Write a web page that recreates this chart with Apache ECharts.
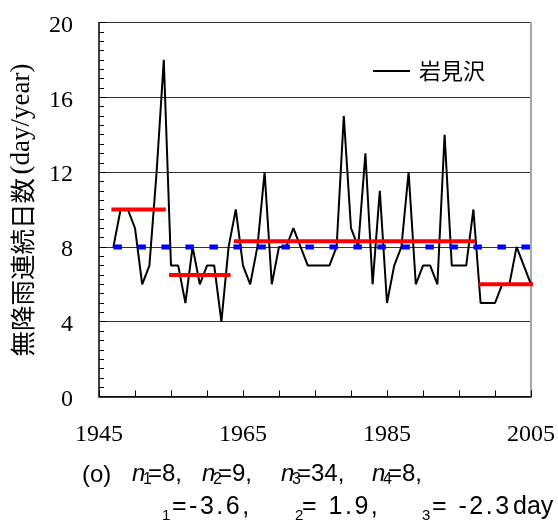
<!DOCTYPE html>
<html>
<head>
<meta charset="utf-8">
<script src="https://cdn.jsdelivr.net/npm/echarts@6/dist/echarts.min.js"></script>
<style>
  html, body { margin: 0; padding: 0; background: #fff; }
  #chart { width: 558px; height: 524px; }
</style>
</head>
<body>
<div id="chart"></div>
<script>
// Annual count of consecutive no-rain days at Iwamizawa
const years = [
  1947, 1948, 1949, 1950, 1951, 1952, 1953, 1954, 1955, 1956,
  1957, 1958, 1959, 1960, 1961, 1962, 1963, 1964, 1965, 1966,
  1967, 1968, 1969, 1970, 1971, 1972, 1973, 1974, 1975, 1976,
  1977, 1978, 1979, 1980, 1981, 1982, 1983, 1984, 1985, 1986,
  1987, 1988, 1989, 1990, 1991, 1992, 1993, 1994, 1995, 1996,
  1997, 1998, 1999, 2000, 2001, 2002, 2003, 2004, 2005
];
const counts = [
  8, 10, 10, 9, 6, 7, 12, 18, 7, 7,
  5, 8, 6, 7, 7, 4, 8, 10, 7, 6,
  8, 12, 6, 8, 8, 9, 8, 7, 7, 7,
  7, 8, 15, 9, 8, 13, 6, 11, 5, 7,
  8, 12, 6, 7, 7, 6, 14, 7, 7, 7,
  10, 5, 5, 5, 6, 6, 8, 7, 6
];

// Sub-period levels (red) and the whole-period level (blue dashed)
const segStart = [1947, 1955, 1964, 1998];
const segEnd = [1954, 1963, 1997, 2005];
const segLevel = [10, 6.5, 8.3, 6];
const overallStart = 1947;
const overallEnd = 2005;
const overallLevel = 8;

// Axis settings
const xMin = 1945, xMax = 2005, xStep = 5;
const xLabelYears = [1945, 1965, 1985, 2005];
const yMin = 0, yMax = 20, yStep = 4;

const stationName = '岩見沢';
const yTitleJa = '無降雨連続日数';
const yTitleUnit = '(day/year)';
const nValues = ['8', '9', '34', '8'];
const diffValues = ['=-3.6,', '= 1.9,', '= -2.3'];

const SERIF = '"Liberation Serif", "Times New Roman", serif';
const SANS = '"Liberation Sans", Arial, sans-serif';
const CJK = '"Noto Sans CJK JP", "Noto Sans CJK SC", sans-serif';

const lineData = years.map((y, i) => [y, counts[i]]);

const segSeries = segLevel.map((lv, i) => ({
  type: 'line',
  data: [[segStart[i], lv], [segEnd[i], lv]],
  showSymbol: false,
  symbol: 'none',
  clip: false,
  z: 3,
  silent: true,
  lineStyle: { color: '#ff0000', width: 4, cap: 'square' }
}));

// helpers for caption text
const measureCtx = document.createElement('canvas').getContext('2d');
function textEl(str, x, y, size, family, italic) {
  return {
    type: 'text', x: x, y: y,
    style: {
      text: str, fontSize: size, fontFamily: family,
      fontStyle: italic ? 'italic' : 'normal',
      fill: '#000', align: 'left', verticalAlign: 'middle'
    }
  };
}
// place characters one by one with extra letter spacing
function spacedText(str, x, y, size, family, ls) {
  measureCtx.font = size + 'px ' + family;
  const out = [];
  let cx = x;
  for (const ch of str) {
    if (ch !== ' ') out.push(textEl(ch, cx, y, size, family, false));
    cx += measureCtx.measureText(ch).width + ls;
  }
  return out;
}

const graphics = [];
// y-axis title
graphics.push({
  type: 'text', x: 22, y: 210, rotation: Math.PI / 2,
  style: {
    text: '{c|' + yTitleJa + '} {s|' + yTitleUnit + '}',
    align: 'center', verticalAlign: 'middle', fill: '#000',
    rich: {
      c: { fontFamily: CJK, fontSize: 25.5, fill: '#000' },
      s: { fontFamily: SERIF, fontSize: 27, fill: '#000' }
    }
  }
});
// caption, first row
const row1Y = 474;
graphics.push(textEl('(o)', 82, row1Y + 1, 24, SANS, false));
const nX = [132, 202, 281, 372];
nValues.forEach((v, i) => {
  graphics.push(textEl('n', nX[i], row1Y, 24, SANS, true));
  graphics.push(textEl(String(i + 1), nX[i] + 11, row1Y + 6, 16, SANS, false));
  graphics.push(textEl('=' + v + ',', nX[i] + 16, row1Y, 24, SANS, false));
});
// caption, second row
const row2Y = 507;
const subX = [162, 295, 422];
const eqX = [172, 302, 432];
diffValues.forEach((v, i) => {
  graphics.push(textEl(String(i + 1), subX[i], row2Y + 9, 15, SANS, false));
  spacedText(v, eqX[i], row2Y, 25, SANS, 2.5).forEach(g => graphics.push(g));
});
graphics.push(textEl('day', 513, row2Y, 25, SANS, false));

const chart = echarts.init(document.getElementById('chart'), null, { renderer: 'canvas' });
chart.setOption({
  animation: false,
  backgroundColor: '#fff',
  grid: { left: 99, right: 25, top: 22.5, bottom: 127.5, containLabel: false },
  legend: {
    data: [stationName],
    left: 373, top: 60, padding: 0,
    itemWidth: 37, itemHeight: 2, icon: 'rect',
    itemStyle: { color: '#000' },
    textStyle: { fontFamily: CJK, fontSize: 22, color: '#000', padding: [0, 0, 0, 4] }
  },
  xAxis: {
    type: 'value', min: xMin, max: xMax, interval: xStep,
    axisLine: { show: true, lineStyle: { color: '#000', width: 1.5 } },
    axisTick: { show: true, inside: true, length: 6, lineStyle: { color: '#000', width: 1 } },
    axisLabel: {
      margin: 26, fontFamily: SERIF, fontSize: 24, color: '#000',
      formatter: v => (xLabelYears.indexOf(v) >= 0 ? String(v) : '')
    },
    splitLine: { show: false }
  },
  yAxis: [{
    type: 'value', min: yMin, max: yMax, interval: yStep,
    axisLine: { show: true, lineStyle: { color: '#000', width: 1.5 } },
    axisTick: { show: true, inside: true, length: 7, lineStyle: { color: '#000' } },
    minorTick: { show: true, splitNumber: 8, length: 5, lineStyle: { color: '#000', width: 1 } },
    axisLabel: {
      margin: 26, color: '#000',
      formatter: v => '{a|' + v + '}',
      rich: { a: { fontFamily: SERIF, fontSize: 24, color: '#000', padding: [6, 0, 0, 0] } }
    },
    splitLine: { show: true, lineStyle: { color: '#333', width: 1 } }
  }, {
    type: 'value', min: yMin, max: yMax, interval: yStep, position: 'right',
    axisLine: { show: true, lineStyle: { color: '#a6a6a6', width: 2 } },
    axisTick: { show: false }, axisLabel: { show: false }, splitLine: { show: false }
  }],
  series: [
    {
      name: stationName,
      type: 'line',
      data: lineData,
      showSymbol: false,
      symbol: 'none',
      z: 2,
      lineStyle: { color: '#000', width: 2 },
      itemStyle: { color: '#000' }
    },
    ...segSeries,
    {
      type: 'line',
      data: [[overallStart, overallLevel], [overallEnd, overallLevel]],
      showSymbol: false,
      symbol: 'none',
      z: 4,
      silent: true,
      lineStyle: { color: '#0000ff', width: 5, type: [8.5, 15.5], cap: 'butt' }
    }
  ],
  graphic: graphics
});
</script>
</body>
</html>
